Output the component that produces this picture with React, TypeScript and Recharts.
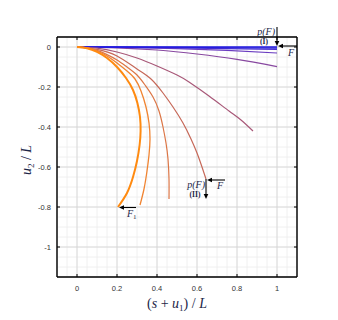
import { LineChart, Line, XAxis, YAxis, CartesianGrid, ReferenceDot } from "recharts";

const X_TICKS = [0, 0.2, 0.4, 0.6, 0.8, 1];
const Y_TICKS = [0, -0.2, -0.4, -0.6, -0.8, -1];
const MINOR_X = Array.from({ length: 25 }, (_, i) => +(-0.1 + i * 0.05).toFixed(2));
const MINOR_Y = Array.from({ length: 25 }, (_, i) => +(0.05 - i * 0.05).toFixed(2));

// deformed shapes, (s + u1)/L vs u2/L
const blue0 = [[0, 0], [0.5, 0], [1, 0]];
const blue1 = [[0, 0], [0.5, -0.002], [1, -0.006]];
const blue2 = [[0, 0], [0.5, -0.004], [1, -0.012]];
const violet = [[0, 0], [0.25, -0.002], [0.5, -0.008], [0.75, -0.017], [1, -0.03]];
const purple = [[0, 0], [0.2, -0.004], [0.4, -0.015], [0.6, -0.035], [0.8, -0.062], [1, -0.098]];
const mauve = [[0, 0], [0.1, -0.006], [0.2, -0.025], [0.3, -0.055], [0.4, -0.095], [0.5, -0.14], [0.56, -0.175], [0.66, -0.245], [0.76, -0.32], [0.82, -0.365], [0.88, -0.42]];
const brown = [[0, 0], [0.1, -0.012], [0.2, -0.045], [0.3, -0.11], [0.37, -0.16], [0.43, -0.23], [0.48, -0.3], [0.53, -0.38], [0.57, -0.46], [0.6, -0.53], [0.625, -0.6], [0.645, -0.66]];
const rust = [[0, 0], [0.05, -0.004], [0.1, -0.017], [0.15, -0.038], [0.2, -0.065], [0.25, -0.1], [0.3, -0.14], [0.34, -0.19], [0.38, -0.25], [0.41, -0.32], [0.43, -0.4], [0.445, -0.48], [0.455, -0.56], [0.46, -0.66], [0.46, -0.76]];
const orange = [[0, 0], [0.05, -0.005], [0.1, -0.02], [0.15, -0.045], [0.2, -0.08], [0.25, -0.12], [0.29, -0.16], [0.32, -0.22], [0.345, -0.3], [0.36, -0.38], [0.365, -0.46], [0.36, -0.54], [0.35, -0.62], [0.335, -0.71], [0.315, -0.79]];
const critical = [[0, 0], [0.05, -0.006], [0.1, -0.024], [0.15, -0.055], [0.2, -0.1], [0.245, -0.155], [0.28, -0.215], [0.302, -0.28], [0.315, -0.35], [0.318, -0.42], [0.313, -0.49], [0.3, -0.57], [0.28, -0.65], [0.25, -0.73], [0.205, -0.8]];

const endI = { x: 1, y: 0 };
const endII = { x: 0.645, y: -0.66 };
const endF1 = { x: 0.205, y: -0.8 };

const toPts = (arr: number[][]) => arr.map(([x, y]) => ({ x, y }));

const series = [
  { key: "purple", data: purple, stroke: "#8848a0", width: 1.2 },
  { key: "violet", data: violet, stroke: "#6a3cc0", width: 1.2 },
  { key: "blue2", data: blue2, stroke: "#4a30d0", width: 1.3 },
  { key: "blue1", data: blue1, stroke: "#3024d8", width: 1.3 },
  { key: "blue0", data: blue0, stroke: "#2018e0", width: 1.5 },
  { key: "mauve", data: mauve, stroke: "#a85878", width: 1.2 },
  { key: "brown", data: brown, stroke: "#c66858", width: 1.2 },
  { key: "rust", data: rust, stroke: "#dc7646", width: 1.2 },
  { key: "orange", data: orange, stroke: "#f08432", width: 1.3 },
  { key: "critical", data: critical, stroke: "#ff8a10", width: 2 },
];

const serif = "'Liberation Serif', 'Times New Roman', serif";
const sans = "'Liberation Sans', Arial, sans-serif";
const ink = "#1c2648";
const frame = { stroke: "#000", strokeWidth: 1.4 };

function Arrow({ x1, y1, x2, y2 }: { x1: number; y1: number; x2: number; y2: number }) {
  const a = Math.atan2(y2 - y1, x2 - x1);
  const len = 5;
  const w = 2.3;
  const bx = x2 - len * Math.cos(a);
  const by = y2 - len * Math.sin(a);
  const px = -Math.sin(a) * w;
  const py = Math.cos(a) * w;
  return (
    <g>
      <line x1={x1} y1={y1} x2={bx} y2={by} stroke="#000" strokeWidth={1.1} />
      <polygon points={`${x2},${y2} ${bx + px},${by + py} ${bx - px},${by - py}`} fill="#000" />
    </g>
  );
}

function LoadI(p: any) {
  const { cx, cy } = p;
  return (
    <g>
      <Arrow x1={cx} y1={cy - 20} x2={cx} y2={cy - 1} />
      <Arrow x1={cx + 20} y1={cy - 1} x2={cx + 1} y2={cy - 1} />
      <text x={cx - 2} y={cy - 12} textAnchor="end" fontFamily={serif} fontStyle="italic" fontSize={10} fill={ink}>p(F)</text>
      <text x={cx - 13} y={cy - 3} textAnchor="middle" fontFamily={serif} fontWeight="bold" fontSize={7.5} fill={ink}>(I)</text>
      <text x={cx + 11} y={cy + 9} fontFamily={serif} fontStyle="italic" fontSize={10} fill={ink}>F</text>
    </g>
  );
}

function LoadII(p: any) {
  const { cx, cy } = p;
  return (
    <g>
      <Arrow x1={cx} y1={cy} x2={cx} y2={cy + 20} />
      <Arrow x1={cx + 19} y1={cy + 1} x2={cx + 1} y2={cy + 1} />
      <text x={cx - 1} y={cy + 9} textAnchor="end" fontFamily={serif} fontStyle="italic" fontSize={10} fill={ink}>p(F)</text>
      <text x={cx - 11} y={cy + 18} textAnchor="middle" fontFamily={serif} fontWeight="bold" fontSize={7.5} fill={ink}>(II)</text>
      <text x={cx + 11} y={cy + 10} fontFamily={serif} fontStyle="italic" fontSize={10} fill={ink}>F</text>
    </g>
  );
}

function LoadF1(p: any) {
  const { cx, cy } = p;
  return (
    <g>
      <Arrow x1={cx + 18} y1={cy + 0.5} x2={cx + 1} y2={cy + 0.5} />
      <text x={cx + 9} y={cy + 10} fontFamily={serif} fontStyle="italic" fontSize={10} fill={ink}>
        F<tspan fontSize={7} dy={2} fontStyle="normal">1</tspan>
      </text>
    </g>
  );
}

const tickStyle = { fontSize: 7.5, fontFamily: sans, fill: "#333" };

export default function App() {
  return (
    <div style={{ position: "absolute", left: 0, top: 0, background: "#fff" }}>
      <LineChart width={338} height={320} margin={{ top: 36, right: 40, bottom: 23, left: 27 }}>
        <XAxis xAxisId="gx" type="number" dataKey="x" domain={[-0.1, 1.1]} ticks={MINOR_X} interval={0} hide allowDataOverflow />
        <YAxis yAxisId="gy" type="number" domain={[-1.15, 0.05]} ticks={MINOR_Y} interval={0} hide allowDataOverflow />
        <CartesianGrid xAxisId="gx" yAxisId="gy" stroke="#ececec" strokeWidth={0.8} />
        <CartesianGrid stroke="#d4d4d4" strokeWidth={0.8} />

        <XAxis
          type="number"
          dataKey="x"
          domain={[-0.1, 1.1]}
          ticks={X_TICKS}
          interval={0}
          allowDataOverflow
          height={20}
          tickSize={-3}
          tickMargin={12}
          tick={tickStyle}
          axisLine={frame}
          tickLine={{ stroke: "#000" }}
          label={{
            content: (lp: any) => {
              const vb = lp.viewBox;
              return (
                <text x={vb.x + vb.width / 2} y={vb.y + vb.height + 11} textAnchor="middle" fontFamily={serif} fontSize={14} fill={ink}>
                  (<tspan fontStyle="italic">s</tspan> + <tspan fontStyle="italic">u</tspan>
                  <tspan fontSize={9} dy={3}>1</tspan>
                  <tspan dy={-3}>) / </tspan>
                  <tspan fontStyle="italic">L</tspan>
                </text>
              );
            },
          }}
        />
        <XAxis
          xAxisId="top"
          orientation="top"
          type="number"
          dataKey="x"
          domain={[-0.1, 1.1]}
          ticks={X_TICKS}
          interval={0}
          allowDataOverflow
          height={1}
          tickSize={-3}
          tickFormatter={() => ""}
          axisLine={frame}
          tickLine={{ stroke: "#000" }}
        />
        <YAxis
          type="number"
          domain={[-1.15, 0.05]}
          ticks={Y_TICKS}
          interval={0}
          allowDataOverflow
          width={30}
          tickSize={-3}
          tickMargin={9}
          tick={tickStyle}
          axisLine={frame}
          tickLine={{ stroke: "#000" }}
          label={{
            content: (lp: any) => {
              const vb = lp.viewBox;
              const x = vb.x + 4;
              const y = vb.y + vb.height / 2 + 3;
              return (
                <text x={x} y={y} transform={`rotate(-90 ${x} ${y})`} textAnchor="middle" fontFamily={serif} fontSize={14} fill={ink}>
                  <tspan fontStyle="italic">u</tspan>
                  <tspan fontSize={9} dy={3}>2</tspan>
                  <tspan dy={-3}> / </tspan>
                  <tspan fontStyle="italic">L</tspan>
                </text>
              );
            },
          }}
        />
        <YAxis
          yAxisId="right"
          orientation="right"
          type="number"
          domain={[-1.15, 0.05]}
          ticks={Y_TICKS}
          interval={0}
          allowDataOverflow
          width={1}
          tickSize={-3}
          tickFormatter={() => ""}
          axisLine={frame}
          tickLine={{ stroke: "#000" }}
        />

        {series.map((s) => (
          <Line
            key={s.key}
            data={toPts(s.data)}
            dataKey="y"
            type="natural"
            stroke={s.stroke}
            strokeWidth={s.width}
            dot={false}
            activeDot={false}
            isAnimationActive={false}
          />
        ))}

        <ReferenceDot x={endI.x} y={endI.y} r={0} ifOverflow="visible" shape={LoadI} />
        <ReferenceDot x={endII.x} y={endII.y} r={0} ifOverflow="visible" shape={LoadII} />
        <ReferenceDot x={endF1.x} y={endF1.y} r={0} ifOverflow="visible" shape={LoadF1} />
      </LineChart>
    </div>
  );
}
